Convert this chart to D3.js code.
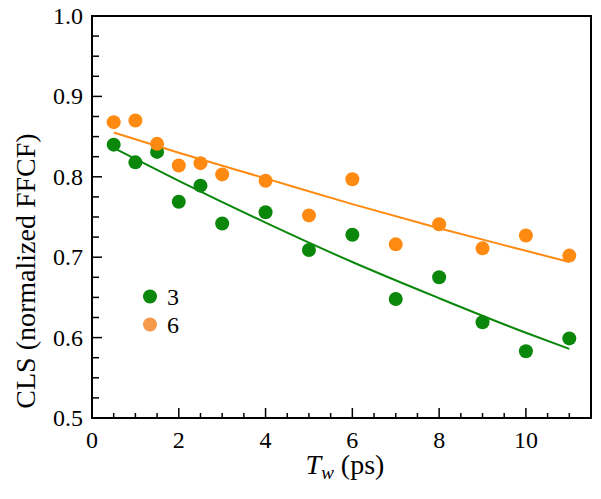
<!DOCTYPE html>
<html><head><meta charset="utf-8">
<script src="https://cdn.jsdelivr.net/npm/d3@7"></script>
<style>body{margin:0;background:#fff}svg{display:block}</style>
</head><body>
<svg id="c" width="601" height="499"></svg>
<script>
const tw = [0.5,1,1.5,2,2.5,3,4,5,6,7,8,9,10,11];
const cls3 = [0.84,0.818,0.831,0.769,0.789,0.742,0.756,0.709,0.728,0.648,0.675,0.619,0.583,0.599];
const cls6 = [0.868,0.870,0.841,0.814,0.817,0.803,0.795,0.752,0.797,0.716,0.741,0.711,0.727,0.702];
const fitX = [0.5,2,4,6,8,10,11];
const fit3 = [0.836,0.795,0.743,0.694,0.649,0.606,0.586];
const fit6 = [0.855,0.830,0.798,0.766,0.736,0.708,0.694];
const seriesNames = ["3","6"];
const xTicks = [0,2,4,6,8,10];
const yTicks = [0.5,0.6,0.7,0.8,0.9,1.0];

const FF = "Liberation Serif";
const svg = d3.select("#c");
const x = d3.scaleLinear().domain([0,11.5]).range([92,591]);
const y = d3.scaleLinear().domain([0.5,1.0]).range([418,16]);
const green = "#0b870b", orange = "#ff8a12";

svg.append("rect").attr("x",92).attr("y",16).attr("width",591-92).attr("height",418-16)
  .attr("fill","none").attr("stroke","#000").attr("stroke-width",2);

const xMinor = d3.range(0.5,11.01,0.5).filter(v=>!xTicks.includes(v));
svg.append("g").selectAll("line").data(xMinor).join("line")
  .attr("x1",d=>x(d)).attr("x2",d=>x(d)).attr("y1",418).attr("y2",413).attr("stroke","#000").attr("stroke-width",1.5);
svg.append("g").selectAll("line").data(xTicks).join("line")
  .attr("x1",d=>x(d)).attr("x2",d=>x(d)).attr("y1",418).attr("y2",408).attr("stroke","#000").attr("stroke-width",1.5);
svg.append("g").selectAll("text").data(xTicks).join("text")
  .attr("font-family",FF).attr("x",d=>x(d)).attr("y",448).attr("text-anchor","middle").attr("font-size",24).text(d=>d);

const yMinor = d3.range(0.525,0.99,0.025).filter(v=>!yTicks.some(t=>Math.abs(t-v)<1e-6));
svg.append("g").selectAll("line").data(yMinor).join("line")
  .attr("x1",92).attr("x2",99).attr("y1",d=>y(d)).attr("y2",d=>y(d)).attr("stroke","#000").attr("stroke-width",1.5);
svg.append("g").selectAll("line").data(yTicks).join("line")
  .attr("x1",92).attr("x2",102).attr("y1",d=>y(d)).attr("y2",d=>y(d)).attr("stroke","#000").attr("stroke-width",1.5);
svg.append("g").selectAll("text").data(yTicks).join("text")
  .attr("font-family",FF).attr("x",83).attr("y",d=>y(d)+8).attr("text-anchor","end").attr("font-size",24).text(d=>d.toFixed(1));

const xt = svg.append("text").attr("font-family",FF).attr("x",345).attr("y",474).attr("text-anchor","middle").attr("font-size",28);
xt.append("tspan").attr("font-style","italic").text("T");
xt.append("tspan").attr("font-style","italic").attr("font-size",19).attr("dy",5).text("w");
xt.append("tspan").attr("dy",-5).text(" (ps)");
svg.append("text").attr("font-family",FF).attr("transform","translate(35,271) rotate(-90)").attr("text-anchor","middle")
  .attr("font-size",28).text("CLS (normalized FFCF)");

const line = d3.line().x(d=>x(d[0])).y(d=>y(d[1])).curve(d3.curveMonotoneX);
svg.append("path").attr("d",line(fitX.map((v,i)=>[v,fit3[i]]))).attr("fill","none").attr("stroke",green).attr("stroke-width",2);
svg.append("path").attr("d",line(fitX.map((v,i)=>[v,fit6[i]]))).attr("fill","none").attr("stroke",orange).attr("stroke-width",2);

svg.append("g").selectAll("circle").data(tw.map((v,i)=>[v,cls3[i]])).join("circle")
  .attr("cx",d=>x(d[0])).attr("cy",d=>y(d[1])).attr("r",7).attr("fill",green);
svg.append("g").selectAll("circle").data(tw.map((v,i)=>[v,cls6[i]])).join("circle")
  .attr("cx",d=>x(d[0])).attr("cy",d=>y(d[1])).attr("r",7).attr("fill",orange);

const leg = svg.append("g");
[[green,296.5],["#f7994a",324.5]].forEach((c,i)=>{
  leg.append("circle").attr("cx",150).attr("cy",c[1]).attr("r",7).attr("fill",c[0]);
  leg.append("text").attr("font-family",FF).attr("x",167).attr("y",c[1]+8).attr("font-size",24).text(seriesNames[i]);
});
</script>
</body></html>
